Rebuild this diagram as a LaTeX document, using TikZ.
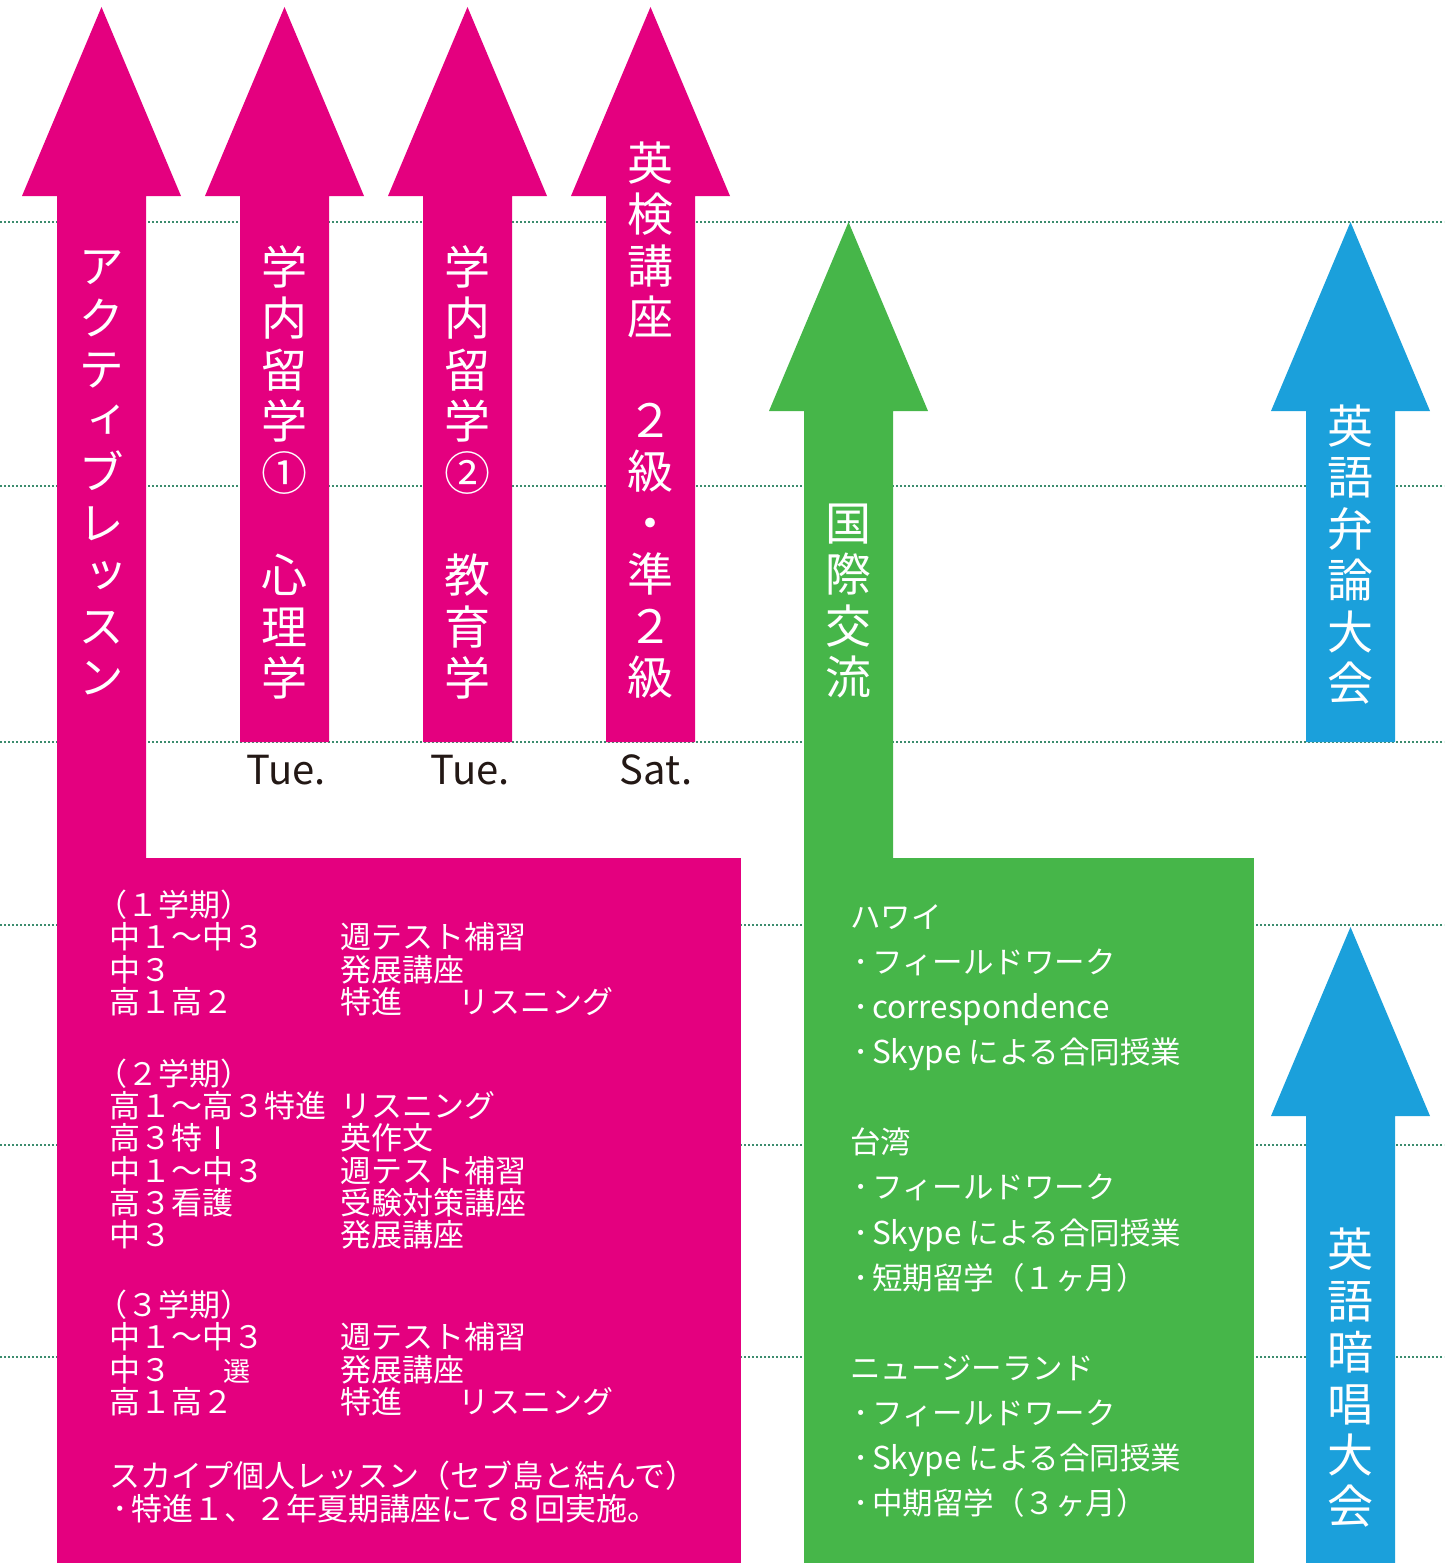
\documentclass[tikz,border=0pt]{standalone}
\usepackage{fontspec}
\setmainfont{Noto Sans CJK JP}
\newfontfamily\vjp[RawFeature=+vert]{Noto Sans CJK JP}

\definecolor{mag}{HTML}{E4007F}
\definecolor{grn}{HTML}{46B649}
\definecolor{blu}{HTML}{1BA0DB}
\definecolor{guide}{HTML}{3C8C6E}
\definecolor{ink}{HTML}{231815}

% arrow: colour, centre x, tip y, bottom y
\newcommand{\bigarrow}[4]{%
  \fill[#1] (#2-79.5,#3+189) -- (#2,#3) -- (#2+79.5,#3+189) -- (#2+44.5,#3+189)
    -- (#2+44.5,#4) -- (#2-44.5,#4) -- (#2-44.5,#3+189) -- cycle;}
\newcommand{\colA}[1]{\makebox[231pt][l]{#1}}
\newcommand{\bul}{\makebox[22pt][c]{･}}
\newcommand{\lp}{\hspace*{-13pt}（}
\newcommand{\ltn}[1]{{\fontsize{31.5}{45}\selectfont #1}}

\tikzset{
  vtext/.style={text=white,font=\vjp\fontsize{46}{51.4}\selectfont,align=center,inner sep=0},
  plan/.style={text=white,font=\fontsize{31}{32.3}\selectfont,align=left,anchor=west,inner sep=0},
  trip/.style={text=white,font=\fontsize{30.5}{45.1}\selectfont,align=left,anchor=west,inner sep=0},
  day/.style={text=ink,font=\fontsize{40}{40}\selectfont,inner sep=0},
  guideline/.style={guide,line width=1.3pt,dash pattern=on 2pt off 2pt}
}

\begin{document}
\begin{tikzpicture}[x=1pt,y=-1pt]
\useasboundingbox (0,0) rectangle (1444,1563);

% dotted guides
\foreach \gy in {222,486,742,925,1145,1357}
  \draw[guideline] (0,\gy) -- (1444,\gy);

% arrows
\bigarrow{mag}{101.5}{7}{1563}
\fill[mag] (58,858) rectangle (741,1563);
\bigarrow{mag}{284.5}{7}{742}
\bigarrow{mag}{467.5}{7}{742}
\bigarrow{mag}{650.5}{7}{742}
\bigarrow{grn}{848.5}{222}{1563}
\fill[grn] (805,858) rectangle (1254,1563);
\bigarrow{blu}{1350.5}{222}{742}
\bigarrow{blu}{1350.5}{927}{1563}

% vertical titles
\node[vtext] (active) at (101.5,473) {ア\\ク\\テ\\ィ\\ブ\\レ\\ッ\\ス\\ン};
\node[vtext] (psy) at (284.5,472.5) {学\\内\\留\\学\\①\\\phantom{学}\\心\\理\\学};
\node[vtext] (edu) at (467.5,472.5) {学\\内\\留\\学\\②\\\phantom{学}\\教\\育\\学};
\node[vtext] (eiken) at (650.5,420) {英\\検\\講\\座\\\phantom{学}\\２\\級\\・\\準\\２\\級};
\node[vtext] (intl) at (848.5,601) {国\\際\\交\\流};
\node[vtext] (speech) at (1350.5,554.5) {英\\語\\弁\\論\\大\\会};
\node[vtext] (recite) at (1350.5,1378) {英\\語\\暗\\唱\\大\\会};

% days
\node[day] (tue1) at (286,770) {Tue.};
\node[day] (tue2) at (470,770) {Tue.};
\node[day] (sat) at (656,770) {Sat.};

% magenta box
\node[plan] (term1) at (109,953) {\lp １学期）\\
  \colA{中１～中３}週テスト補習\\
  \colA{中３}発展講座\\
  \colA{高１高２}特進\hspace{56pt}リスニング};
\node[plan] (term2) at (109,1154) {\lp ２学期）\\
  \colA{高１～高３特進}リスニング\\
  \colA{高３特Ⅰ}英作文\\
  \colA{中１～中３}週テスト補習\\
  \colA{高３看護}受験対策講座\\
  \colA{中３}発展講座};
\node[plan] (term3) at (109,1353) {\lp ３学期）\\
  \colA{中１～中３}週テスト補習\\
  \colA{中３\hspace{52pt}{\fontsize{27}{30}\selectfont 選}}発展講座\\
  \colA{高１高２}特進\hspace{56pt}リスニング};
\node[plan] (skype) at (109,1492) {スカイプ個人レッスン（セブ島と結んで）\\
  \bul 特進１、２年夏期講座にて８回実施。};

% green box
\node[trip] (abroad) at (850,1211) {ハワイ\\
  \bul フィールドワーク\\
  \bul\ltn{correspondence}\\
  \bul\ltn{Skype} による合同授業\\
  \mbox{}\\
  台湾\\
  \bul フィールドワーク\\
  \bul\ltn{Skype} による合同授業\\
  \bul 短期留学（１ヶ月）\\
  \mbox{}\\
  ニュージーランド\\
  \bul フィールドワーク\\
  \bul\ltn{Skype} による合同授業\\
  \bul 中期留学（３ヶ月）};
\end{tikzpicture}
\end{document}
